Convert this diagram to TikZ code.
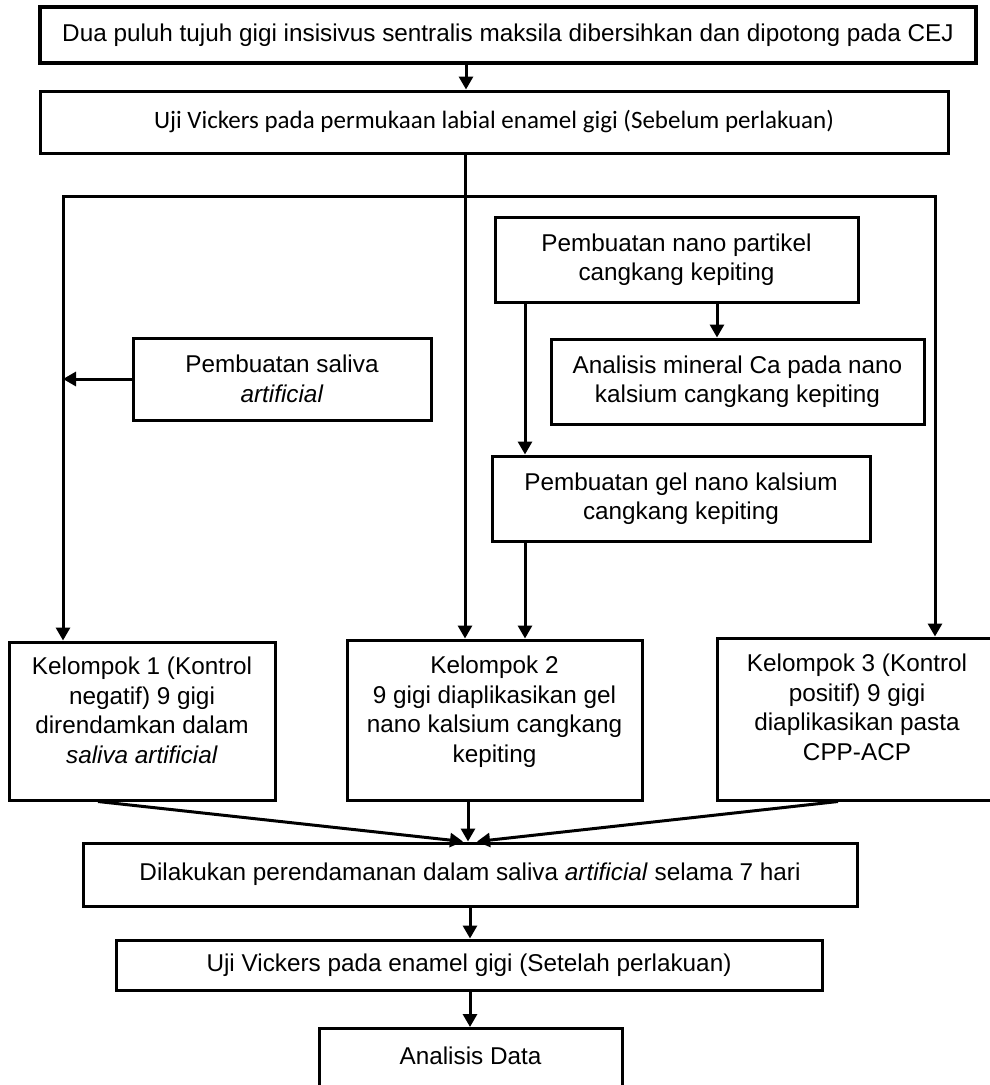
\documentclass[tikz,border=0pt]{standalone}
\usepackage{fontspec}
\setmainfont{Liberation Sans}
\newfontfamily\calibrifont{Carlito}
\usetikzlibrary{arrows.meta}
\begin{document}
\begin{tikzpicture}[x=1pt,y=-1pt,
  box/.style={draw, line width=3pt, rectangle, inner sep=0pt, align=center,
    font=\fontsize{24.3}{29.5}\selectfont},
  grp/.style={draw, line width=3pt, rectangle, inner sep=0pt,
    font=\fontsize{24.3}{29.5}\selectfont},
  arr/.style={line width=3pt, -{Triangle[length=13pt,width=14pt]}},
  ln/.style={line width=3pt}]
\useasboundingbox (0,0) rectangle (990,1085);
\clip (0,0) rectangle (990,1085);

% boxes
\node[box, line width=3.5pt, minimum width=936pt, minimum height=56pt] (b1) at (508,35)
  {Dua puluh tujuh gigi insisivus sentralis maksila dibersihkan dan dipotong pada CEJ};
\node[box, minimum width=908pt, minimum height=62pt, font=\calibrifont\fontsize{25}{30}\selectfont] (b2) at (494,122)
  {Uji Vickers pada permukaan labial enamel gigi (Sebelum perlakuan)};
\node[box, minimum width=298pt, minimum height=82pt] (sal) at (282,379)
  {Pembuatan saliva\\ \textit{artificial}};
\node[box, minimum width=363pt, minimum height=85pt] (nano) at (676.5,259.5)
  {Pembuatan nano partikel\\ cangkang kepiting};
\node[box, minimum width=373pt, minimum height=85pt] (min) at (737.5,381.5)
  {Analisis mineral Ca pada nano\\ kalsium cangkang kepiting};
\node[box, minimum width=378pt, minimum height=85pt] (gel) at (681,498.5)
  {Pembuatan gel nano kalsium\\ cangkang kepiting};
\node[grp, minimum width=266pt, minimum height=158pt] (k1) at (142,721)
  {\begin{tabular}{@{}c@{}}Kelompok 1 (Kontrol\\ negatif) 9 gigi\\ direndamkan dalam\\ \textit{saliva artificial}\\[16pt]\end{tabular}};
\node[grp, minimum width=295pt, minimum height=160pt] (k2) at (494.5,720)
  {\begin{tabular}{@{}c@{}}Kelompok 2\\ 9 gigi diaplikasikan gel\\ nano kalsium cangkang\\ kepiting\\[16pt]\end{tabular}};
\node[grp, minimum width=280pt, minimum height=162pt] (k3) at (857,719)
  {\begin{tabular}{@{}c@{}}Kelompok 3 (Kontrol\\ positif) 9 gigi\\ diaplikasikan pasta\\ CPP-ACP\\[18pt]\end{tabular}};
\node[box, minimum width=774pt, minimum height=63pt] (dil) at (470,874.5)
  {Dilakukan perendamanan dalam saliva \textit{artificial} selama 7 hari};
\node[box, minimum width=706pt, minimum height=50pt] (uji) at (469,965)
  {Uji Vickers pada enamel gigi (Setelah perlakuan)};
\node[draw, line width=3pt, rectangle, inner xsep=0pt, inner ysep=0pt,
  minimum width=303pt, text height=36pt, text depth=60pt, anchor=north,
  font=\fontsize{24.3}{29.5}\selectfont] (ad) at (470.5,1027) {Analisis Data};

% reference coordinates
\coordinate (busL) at (63,196);
\coordinate (busC) at (465,196);
\coordinate (busR) at (935,196);
\coordinate (xa) at (466,0);
\coordinate (xnm) at (717,0);
\coordinate (xng) at (525,0);
\coordinate (xk1) at (98,0);
\coordinate (xk2) at (468,0);
\coordinate (xk3) at (838,0);
\coordinate (tl) at (463,0);
\coordinate (tr) at (477,0);
\coordinate (xb) at (470,0);

% connectors
\draw[arr] (b1.south -| xa) -- (b2.north -| xa);
\draw[arr] (b2.south -| busC) -- (k2.north -| busC);
\draw[arr] (busC) -- (busL) -- (k1.north -| busL);
\draw[arr] (busC) -- (busR) -- (k3.north -| busR);
\draw[arr] (sal.west) -- (sal.west -| busL);
\draw[arr] (nano.south -| xnm) -- (min.north -| xnm);
\draw[arr] (nano.south -| xng) -- (gel.north -| xng);
\draw[arr] (gel.south -| xng) -- (k2.north -| xng);
\draw[arr] (k1.south -| xk1) -- (dil.north -| tl);
\draw[arr] (k2.south -| xk2) -- (dil.north -| xk2);
\draw[arr] (k3.south -| xk3) -- (dil.north -| tr);
\draw[arr] (dil.south -| xb) -- (uji.north -| xb);
\draw[arr] (uji.south -| xb) -- (ad.north -| xb);
\end{tikzpicture}
\end{document}
